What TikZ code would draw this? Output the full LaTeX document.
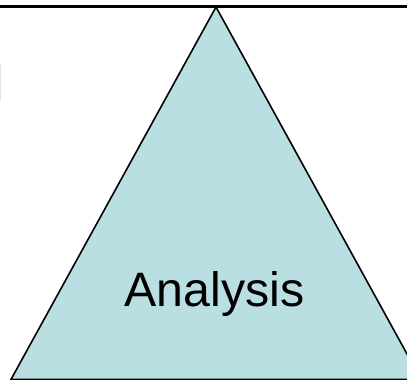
\documentclass[tikz,border=0pt]{standalone}
\usepackage{fontspec}
\setmainfont{Liberation Sans}
\definecolor{trifill}{HTML}{BADFE3}
\tikzset{
  tri/.style={fill=trifill, draw=black, line width=1.6pt, line join=miter},
  topline/.style={draw=black, line width=2.2pt},
  label/.style={font=\fontsize{48.3}{55}\selectfont, inner sep=0pt, anchor=base}
}
\begin{document}
\begin{tikzpicture}[x=1pt,y=1pt]
\useasboundingbox (0,0) rectangle (407,380);
\begin{scope}
\clip (0,0) rectangle (407,380);
\coordinate (apex) at (216,373);
\coordinate (bl) at (11,0.6);
\coordinate (br) at (421,0.6);
\draw[tri] (apex) -- (bl) -- (br) -- cycle;
\coordinate (tl) at (0,373.5);
\coordinate (tr) at (407,373.5);
\draw[topline] (tl) -- (tr);
\fill[gray!22] (0,280) rectangle (1.3,315);
\end{scope}
\node[label] (txt) at (214.5,73) {Analysis};
\end{tikzpicture}
\end{document}
